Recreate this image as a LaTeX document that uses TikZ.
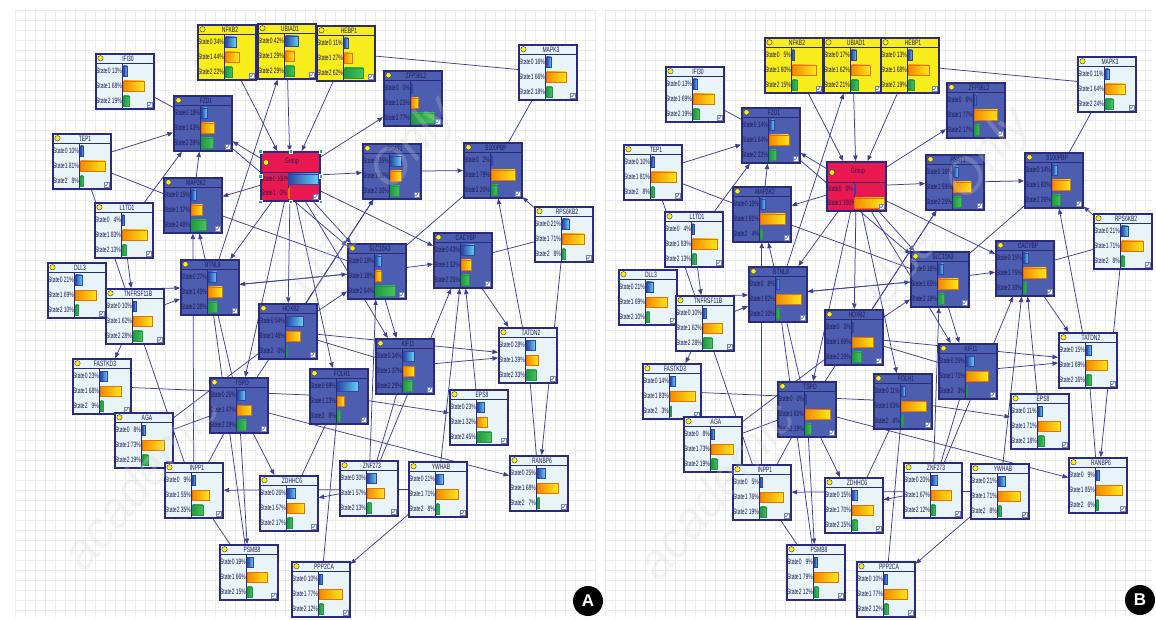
\documentclass[tikz,border=0pt]{standalone}
\usepackage{fontspec}
\setmainfont{Liberation Sans}
\newfontfamily\cellfont[FakeStretch=0.64]{Liberation Sans}
\usetikzlibrary{arrows.meta}

\pgfdeclarelayer{gridlayer}
\pgfdeclarelayer{edgelayer}
\pgfdeclarelayer{toplayer}
\pgfsetlayers{gridlayer,edgelayer,main,toplayer}

\definecolor{framecol}{HTML}{2B2B7E}
\definecolor{edgecol}{HTML}{3C3F96}
\definecolor{textcol}{HTML}{1C1C55}
\definecolor{bluefill}{HTML}{4D5DB0}
\definecolor{lightfill}{HTML}{E8F4F7}
\definecolor{yellowfill}{HTML}{F7EC1C}
\definecolor{redfill}{HTML}{EA1850}
\definecolor{gridcol}{HTML}{ECECF0}
\definecolor{dotcol}{HTML}{FFF200}
\definecolor{bar0a}{HTML}{2C46A6}
\definecolor{bar0b}{HTML}{63D2F4}
\definecolor{bar1a}{HTML}{F38A00}
\definecolor{bar1b}{HTML}{FFE81A}
\definecolor{bar1c}{HTML}{E57200}
\definecolor{bar2a}{HTML}{1F9A40}
\definecolor{bar2b}{HTML}{4CC25E}
\definecolor{checkcol}{HTML}{2E7FB8}
\definecolor{handlecol}{HTML}{2AA7A0}

\tikzset{
  netbox/.style={draw=framecol, line width=1.6pt, inner sep=0pt, outer sep=0.8pt, anchor=north west},
  link/.style={draw=edgecol, line width=0.75pt, -{Triangle[length=5.5pt,width=4.4pt]}},
  plainlink/.style={draw=edgecol, line width=0.75pt},
  celltext/.style={text=textcol, font=\cellfont\fontsize{7.8}{8}\selectfont, inner sep=0pt, anchor=west},
  titletext/.style={text=textcol, font=\cellfont\fontsize{7.8}{8}\selectfont, inner sep=0pt},
  badge/.style={circle, fill=black, minimum size=30pt, inner sep=0pt, text=white,
    font=\bfseries\fontsize{17}{17}\selectfont},
  watermark/.style={rotate=50, text=white!65!gray, opacity=0.25, inner sep=0pt,
    font=\itshape\fontsize{50}{50}\selectfont},
}

% one state row: #1 index, #2 percent, #3 row centre, #4/#5 bar colours, #6 bar outline, #7 length per percent
\newcommand\staterow[7]{%
  \node[celltext] at (0.9,#3) {State#1 \ifnum#2<10 \phantom{0}\fi#2\%};
  \pgfmathsetmacro\barw{max(0.8,#2*#7)}%
  \shade[left color=#4, right color=#5, draw=#6, line width=0.3pt] (28.5,#3-5) rectangle ++(\barw,10);
}

% small check box in the lower right corner
\newcommand\checkicon[2]{%
  \draw[fill=white, draw=framecol!60, line width=0.3pt] (#1,#2) rectangle ++(4.8,4.8);
  \draw[draw=checkcol, line width=0.6pt] (#1+0.9,#2+2.6) -- (#1+2,#2+3.9) -- (#1+4.1,#2+1);
}

% gene box: #1 name, #2 x, #3 y (top left), #4 fill, #5 title, #6-#8 state percentages
\newcommand\genebox[8]{%
  \begin{scope}[shift={(#2,#3)}]
    \node[netbox, fill=#4, minimum width=58pt, minimum height=55pt] (#1) at (0,0) {};
    \draw[framecol, line width=0.7pt] (0,10.5) -- (58,10.5);
    \draw[framecol, line width=0.5pt] (27.5,10.5) -- (27.5,55);
    \draw[framecol, fill=dotcol, line width=0.4pt] (5.5,5.3) circle[radius=2.7pt];
    \node[titletext] at (33,5.4) {#5};
    \staterow{0}{#6}{18}{bar0a}{bar0b}{bar0a}{0.3}
    \staterow{1}{#7}{33}{bar1a}{bar1b}{bar1c}{0.3}
    \staterow{2}{#8}{47.8}{bar2a}{bar2b}{bar2a}{0.3}
    \checkicon{52}{49}
  \end{scope}}

% group box: #1 name, #2 x, #3 y, #4 State0, #5 State1
\newcommand\groupbox[5]{%
  \begin{scope}[shift={(#2,#3)}]
    \node[netbox, fill=redfill, minimum width=59pt, minimum height=49pt] (#1) at (0,0) {};
    \draw[framecol, line width=0.7pt] (0,21) -- (59,21);
    \draw[framecol, line width=0.5pt] (28,21) -- (28,49);
    \draw[framecol, fill=dotcol, line width=0.4pt] (6,11.5) circle[radius=2.8pt];
    \node[titletext] at (32,11) {Group};
    \staterow{0}{#4}{28}{bar0a}{bar0b}{bar0a}{0.295}
    \staterow{1}{#5}{42}{bar1a}{bar1b}{bar1c}{0.295}
    \checkicon{53}{43}
  \end{scope}}

% selection handles round a box
\newcommand\handles[1]{%
  \foreach \p in {north west,north,north east,east,south east,south,south west,west}
    \fill[handlecol, draw=white, line width=0.2pt] (#1.\p) +(-1.7,-1.7) rectangle +(1.7,1.7);
}

% connectors of one network (#1 = name prefix)
\newcommand\netlinks[1]{%
  \foreach \s/\t in {NFKB2/Group, UBIAD1/Group, HEBP1/Group, BTNL8/UBIAD1, TEP1/FZD1,
      Group/FZD1, Group/MAP2K2, MAP2K2/FZD1, L1TD1/FZD1, FZD1/SLC10A3, Group/ZFP36L2,
      Group/PSAT1, PSAT1/S100PBP, RPS6KB2/S100PBP, Group/BTNL8, Group/SLC10A3,
      Group/CACYBP, Group/HOXB2, Group/TSPO, Group/FOLH1, Group/KIF11,
      L1TD1/TNFRSF11B, TNFRSF11B/BTNL8, DLL3/BTNL8, TNFRSF11B/FASTKD3, TSPO/MAP2K2,
      INPP1/MAP2K2, SLC10A3/BTNL8, BTNL8/SLC10A3, HOXB2/SLC10A3, SLC10A3/CACYBP,
      CACYBP/TATDN2, KIF11/TATDN2, HOXB2/TATDN2, RPS6KB2/RANBP6, TATDN2/S100PBP,
      EPS8/CACYBP, YWHAB/CACYBP, ZNF273/CACYBP, FOLH1/EPS8, TSPO/RANBP6, TSPO/ZDHHC6,
      YWHAB/INPP1, ZNF273/ZDHHC6, YWHAB/PPP2CA, TSPO/PSMB8, SLC10A3/KIF11,
      ZNF273/SLC10A3, HOXB2/PSAT1, TSPO/PSAT1}
    \draw[link] (#1\s) -- (#1\t);
  \foreach \s/\t in {HEBP1/MAPK3, IFI30/FZD1, TEP1/MAP2K2, TEP1/INPP1, MAPK3/S100PBP,
      RPS6KB2/CACYBP, HOXB2/KIF11, FASTKD3/FOLH1, AGA/TSPO, AGA/HOXB2, FOLH1/PPP2CA,
      ZNF273/KIF11, ZDHHC6/FOLH1, INPP1/PSMB8, INPP1/TSPO, PSMB8/BTNL8, RANBP6/TATDN2,
      MAP2K2/SLC10A3, SLC10A3/S100PBP}
    \draw[plainlink] (#1\s) -- (#1\t);
}

% diagonal watermark words of one panel: #1 name prefix, #2/#3 start point
\newcommand\watermarkwords[3]{%
  \node[watermark] (#1wm1) at (#2,#3) {academic};
  \node[watermark] (#1wm2) at (#2+185,#3-225) {Use};
  \node[watermark] (#1wm3) at (#2+275,#3-335) {Only};
}

\begin{document}
\begin{tikzpicture}[x=1pt, y=-1pt]
\useasboundingbox (0,0) rectangle (1156,620);

% white sheet and background grids
\begin{pgfonlayer}{gridlayer}
  \fill[white] (0,0) rectangle (1156,620);
  \foreach \gx in {15,25,...,595} \draw[gridcol, line width=0.4pt] (\gx,10) -- (\gx,617);
  \foreach \gy in {10,20,...,610} \draw[gridcol, line width=0.4pt] (15,\gy) -- (597,\gy);
  \foreach \gx in {605,615,...,1150} \draw[gridcol, line width=0.4pt] (\gx,10) -- (\gx,617);
  \foreach \gy in {10,20,...,610} \draw[gridcol, line width=0.4pt] (603,\gy) -- (1152,\gy);
\end{pgfonlayer}

% ---------- network A ----------
\genebox{aNFKB2}{197}{24}{yellowfill}{NFKB2}{34}{44}{22}
\genebox{aUBIAD1}{257}{23}{yellowfill}{UBIAD1}{42}{29}{29}
\genebox{aHEBP1}{316}{25}{yellowfill}{HEBP1}{11}{27}{62}
\genebox{aIFI30}{95}{53}{lightfill}{IFI30}{13}{68}{19}
\genebox{aFZD1}{173}{95}{bluefill}{FZD1}{18}{43}{39}
\genebox{aTEP1}{52}{133}{lightfill}{TEP1}{10}{81}{8}
\groupbox{aGroup}{260}{151}{100}{0}
\genebox{aMAP2K2}{163}{177}{bluefill}{MAP2K2}{15}{37}{48}
\genebox{aL1TD1}{94}{202}{lightfill}{L1TD1}{4}{83}{13}
\genebox{aZFP36L2}{383}{70}{bluefill}{ZFP36L2}{0}{23}{77}
\genebox{aMAPK3}{518}{44}{lightfill}{MAPK3}{16}{66}{18}
\genebox{aPSAT1}{362}{143}{bluefill}{PSAT1}{35}{36}{30}
\genebox{aS100PBP}{463}{142}{bluefill}{S100PBP}{2}{79}{20}
\genebox{aRPS6KB2}{534}{206}{lightfill}{RPS6KB2}{21}{71}{8}
\genebox{aDLL3}{47}{262}{lightfill}{DLL3}{21}{69}{10}
\genebox{aTNFRSF11B}{105}{288}{lightfill}{TNFRSF11B}{10}{62}{28}
\genebox{aBTNL8}{180}{259}{bluefill}{BTNL8}{27}{45}{28}
\genebox{aHOXB2}{258}{303}{bluefill}{HOXB2}{54}{46}{0}
\genebox{aSLC10A3}{347}{243}{bluefill}{SLC10A3}{18}{18}{64}
\genebox{aCACYBP}{433}{232}{bluefill}{CACYBP}{43}{32}{25}
\genebox{aTATDN2}{498}{327}{lightfill}{TATDN2}{28}{39}{33}
\genebox{aKIF11}{375}{338}{bluefill}{KIF11}{34}{37}{29}
\genebox{aFOLH1}{309}{368}{bluefill}{FOLH1}{69}{23}{8}
\genebox{aFASTKD3}{72}{358}{lightfill}{FASTKD3}{23}{68}{9}
\genebox{aTSPO}{209}{377}{bluefill}{TSPO}{25}{47}{28}
\genebox{aAGA}{114}{412}{lightfill}{AGA}{8}{73}{19}
\genebox{aEPS8}{449}{389}{lightfill}{EPS8}{23}{32}{45}
\genebox{aINPP1}{164}{462}{lightfill}{INPP1}{9}{55}{35}
\genebox{aZDHHC6}{259}{475}{lightfill}{ZDHHC6}{26}{57}{17}
\genebox{aZNF273}{339}{460}{lightfill}{ZNF273}{30}{57}{13}
\genebox{aYWHAB}{408}{461}{lightfill}{YWHAB}{21}{71}{8}
\genebox{aRANBP6}{509}{455}{lightfill}{RANBP6}{25}{68}{7}
\genebox{aPSMB8}{219}{544}{lightfill}{PSMB8}{19}{66}{15}
\genebox{aPPP2CA}{291}{561}{lightfill}{PPP2CA}{10}{77}{12}
\handles{aGroup}

% ---------- network B ----------
\genebox{bNFKB2}{764}{37}{yellowfill}{NFKB2}{5}{80}{15}
\genebox{bUBIAD1}{823}{37}{yellowfill}{UBIAD1}{17}{62}{21}
\genebox{bHEBP1}{880}{37}{yellowfill}{HEBP1}{13}{68}{19}
\genebox{bIFI30}{665}{66}{lightfill}{IFI30}{13}{69}{19}
\genebox{bFZD1}{741}{107}{bluefill}{FZD1}{14}{64}{22}
\genebox{bTEP1}{623}{144}{lightfill}{TEP1}{10}{81}{8}
\groupbox{bGroup}{826}{161}{0}{100}
\genebox{bMAP2K2}{732}{186}{bluefill}{MAP2K2}{15}{81}{4}
\genebox{bL1TD1}{664}{211}{lightfill}{L1TD1}{4}{83}{13}
\genebox{bZFP36L2}{946}{82}{bluefill}{ZFP36L2}{6}{77}{17}
\genebox{bMAPK3}{1077}{56}{lightfill}{MAPK3}{11}{64}{24}
\genebox{bPSAT1}{925}{154}{bluefill}{PSAT1}{16}{59}{25}
\genebox{bS100PBP}{1024}{152}{bluefill}{S100PBP}{14}{60}{26}
\genebox{bRPS6KB2}{1093}{213}{lightfill}{RPS6KB2}{21}{71}{8}
\genebox{bDLL3}{618}{269}{lightfill}{DLL3}{21}{69}{10}
\genebox{bTNFRSF11B}{675}{295}{lightfill}{TNFRSF11B}{10}{62}{28}
\genebox{bBTNL8}{748}{266}{bluefill}{BTNL8}{8}{82}{10}
\genebox{bHOXB2}{824}{309}{bluefill}{HOXB2}{3}{69}{29}
\genebox{bSLC10A3}{910}{251}{bluefill}{SLC10A3}{16}{65}{19}
\genebox{bCACYBP}{995}{240}{bluefill}{CACYBP}{15}{75}{10}
\genebox{bTATDN2}{1058}{332}{lightfill}{TATDN2}{15}{69}{16}
\genebox{bKIF11}{938}{343}{bluefill}{KIF11}{25}{71}{3}
\genebox{bFOLH1}{873}{373}{bluefill}{FOLH1}{11}{83}{6}
\genebox{bFASTKD3}{642}{363}{lightfill}{FASTKD3}{14}{83}{3}
\genebox{bTSPO}{777}{381}{bluefill}{TSPO}{0}{81}{19}
\genebox{bAGA}{683}{416}{lightfill}{AGA}{8}{73}{19}
\genebox{bEPS8}{1010}{393}{lightfill}{EPS8}{11}{71}{18}
\genebox{bINPP1}{732}{464}{lightfill}{INPP1}{5}{76}{19}
\genebox{bZDHHC6}{824}{477}{lightfill}{ZDHHC6}{15}{70}{15}
\genebox{bZNF273}{903}{462}{lightfill}{ZNF273}{20}{67}{12}
\genebox{bYWHAB}{970}{463}{lightfill}{YWHAB}{21}{71}{8}
\genebox{bRANBP6}{1068}{457}{lightfill}{RANBP6}{9}{85}{6}
\genebox{bPSMB8}{786}{544}{lightfill}{PSMB8}{9}{79}{12}
\genebox{bPPP2CA}{856}{561}{lightfill}{PPP2CA}{10}{77}{12}

% connectors
\begin{pgfonlayer}{edgelayer}
  \netlinks{a}
  \netlinks{b}
\end{pgfonlayer}

% watermark and panel badges
\begin{pgfonlayer}{toplayer}
  \watermarkwords{a}{140}{480}
  \watermarkwords{b}{715}{490}
  \node[badge] (labA) at (588,601) {A};
  \node[badge] (labB) at (1140,600) {B};
\end{pgfonlayer}
\end{tikzpicture}
\end{document}
